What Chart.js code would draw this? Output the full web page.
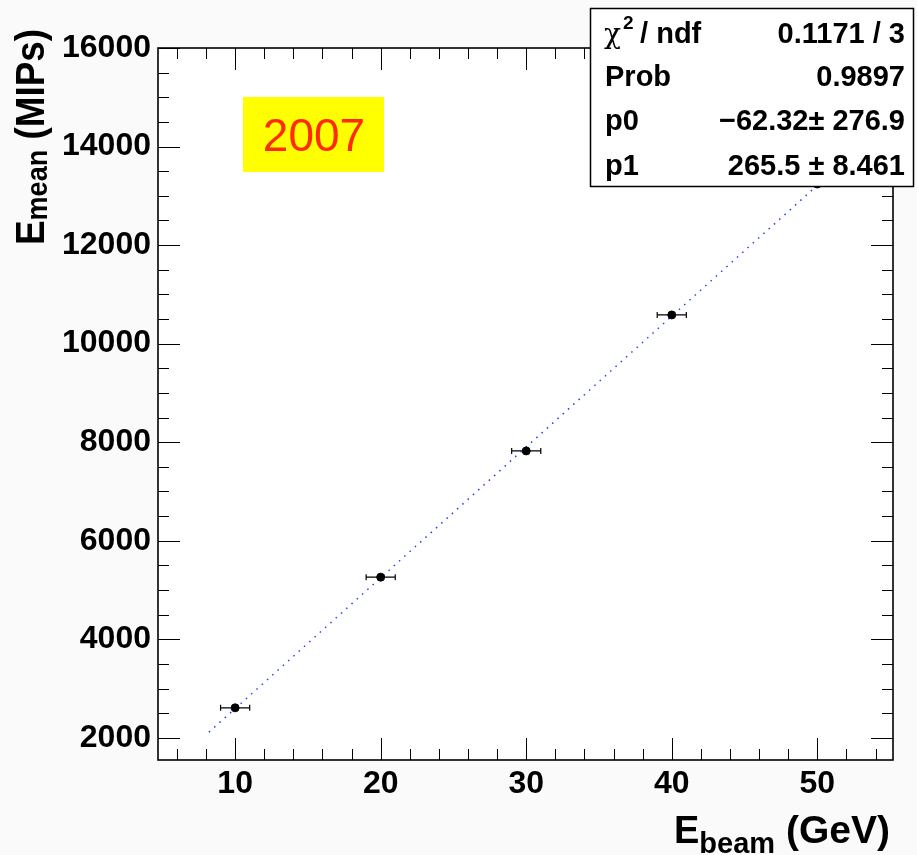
<!DOCTYPE html>
<html>
<head>
<meta charset="utf-8">
<script src="https://cdn.jsdelivr.net/npm/chart.js@4.4.1/dist/chart.umd.min.js"></script>
<style>
  body { margin: 0; background: #fafafa; }
  canvas { display: block; }
</style>
</head>
<body>
<canvas id="myChart" width="917" height="855"></canvas>
<script>
// measured points (beam energy in GeV, mean energy in MIPs)
const beamEnergy = [10, 20, 30, 40, 50];
const meanEnergy = [2609, 5261, 7823, 10583, 13240];
const beamErr = [1, 1, 1, 1, 1];

// pol1 fit drawn as a dotted line
const fitX = [8.2, 52];
const fitY = [2114.8, 13743.7];

const statNames = ["ndf", "Prob", "p0", "p1"];
const statValues = ["0.1171 / 3", "0.9897", "\u221262.32\u00b1 276.9", "265.5 \u00b1 8.461"];

const xMajor = [10, 20, 30, 40, 50];
const yMajor = [2000, 4000, 6000, 8000, 10000, 12000, 14000, 16000];

const FONT = "'Liberation Sans', Arial, sans-serif";

const rootStyle = {
    id: 'rootStyle',
    beforeDraw(chart) {
        const ctx = chart.ctx;
        const a = chart.chartArea;
        ctx.save();
        ctx.fillStyle = '#fafafa';
        ctx.fillRect(0, 0, chart.width, chart.height);
        ctx.fillStyle = '#ffffff';
        ctx.fillRect(a.left, a.top, a.right - a.left, a.bottom - a.top);
        ctx.restore();
    },
    beforeDatasetsDraw(chart) {
        // horizontal error bars
        const ctx = chart.ctx;
        const xs = chart.scales.x, ys = chart.scales.y;
        ctx.save();
        ctx.strokeStyle = '#000';
        ctx.lineWidth = 1.2;
        for (let i = 0; i < beamEnergy.length; i++) {
            let x1 = xs.getPixelForValue(beamEnergy[i] - beamErr[i]);
            let x2 = xs.getPixelForValue(beamEnergy[i] + beamErr[i]);
            let y = ys.getPixelForValue(meanEnergy[i]);
            ctx.beginPath();
            ctx.moveTo(x1, y); ctx.lineTo(x2, y);
            ctx.moveTo(x1, y - 3); ctx.lineTo(x1, y + 3);
            ctx.moveTo(x2, y - 3); ctx.lineTo(x2, y + 3);
            ctx.stroke();
        }
        ctx.restore();
    },
    afterDraw(chart) {
        const ctx = chart.ctx;
        const a = chart.chartArea;
        const xs = chart.scales.x, ys = chart.scales.y;
        ctx.save();

        // tick marks inside the frame, all four sides
        ctx.strokeStyle = '#000';
        ctx.lineWidth = 1;
        ctx.beginPath();
        for (let v = 6; v <= 54; v += 2) {
            let px = Math.round(xs.getPixelForValue(v)) + 0.5;
            let len = (v % 10 === 0) ? 22 : 11;
            ctx.moveTo(px, a.bottom); ctx.lineTo(px, a.bottom - len);
            ctx.moveTo(px, a.top); ctx.lineTo(px, a.top + len);
        }
        for (let v = 2000; v <= 16000; v += 500) {
            let py = Math.round(ys.getPixelForValue(v)) + 0.5;
            let len = (v % 2000 === 0) ? 22 : 11;
            ctx.moveTo(a.left, py); ctx.lineTo(a.left + len, py);
            ctx.moveTo(a.right, py); ctx.lineTo(a.right - len, py);
        }
        ctx.stroke();

        // frame
        ctx.lineWidth = 1.6;
        ctx.strokeRect(a.left, a.top, a.right - a.left, a.bottom - a.top);

        // year label
        ctx.fillStyle = '#ffff00';
        ctx.fillRect(243, 97, 141, 75);
        ctx.fillStyle = '#ff2a00';
        ctx.font = "46px " + FONT;
        ctx.textAlign = 'center';
        ctx.textBaseline = 'alphabetic';
        ctx.fillText("2007", 314, 151);

        // fit statistics box
        ctx.fillStyle = '#ffffff';
        ctx.fillRect(590, 8, 323, 178);
        ctx.strokeStyle = '#000';
        ctx.lineWidth = 1.5;
        ctx.strokeRect(590.5, 8.5, 323, 178);

        const rows = [43, 86, 130, 175];
        ctx.fillStyle = '#000';
        ctx.textAlign = 'left';
        ctx.font = "28px 'DejaVu Serif', serif";
        ctx.fillText("\u03c7", 604, rows[0]);
        ctx.font = "bold 19px " + FONT;
        ctx.fillText("2", 623, rows[0] - 14);
        ctx.font = "bold 29px " + FONT;
        ctx.fillText(" / " + statNames[0], 632, rows[0]);
        for (let i = 1; i < statNames.length; i++) {
            ctx.fillText(statNames[i], 605, rows[i]);
        }
        ctx.textAlign = 'right';
        for (let i = 0; i < statValues.length; i++) {
            ctx.fillText(statValues[i], 905, rows[i]);
        }

        // x axis title, with subscript
        ctx.textAlign = 'left';
        ctx.font = "bold 38px " + FONT;
        let xt = 674;
        ctx.fillText("E", xt, 843);
        xt += ctx.measureText("E").width;
        ctx.font = "bold 29px " + FONT;
        ctx.fillText("beam", xt, 853);
        xt += ctx.measureText("beam").width;
        ctx.font = "bold 39px " + FONT;
        ctx.fillText(" (GeV)", xt, 843);

        // y axis title, rotated and slightly condensed
        ctx.translate(44, 0);
        ctx.rotate(-Math.PI / 2);
        ctx.scale(0.9, 1);
        ctx.textAlign = 'left';
        let yt = -245 / 0.9;
        ctx.font = "bold 41px " + FONT;
        ctx.fillText("E", yt, 0);
        yt += ctx.measureText("E").width;
        ctx.font = "bold 30px " + FONT;
        ctx.fillText("mean", yt, 3);
        yt += ctx.measureText("mean").width;
        ctx.font = "bold 41px " + FONT;
        ctx.fillText(" (MIPs)", yt, 0);

        ctx.restore();
    }
};

const ctx = document.getElementById('myChart');

const config = {
    type: 'scatter',
    data: {
        datasets: [{
            label: 'fit',
            data: fitX.map((x, i) => ({x: x, y: fitY[i]})),
            showLine: true,
            borderColor: '#1f3dff',
            borderWidth: 1.5,
            borderDash: [1.5, 5.6],
            pointRadius: 0,
            order: 2
        }, {
            label: 'data',
            data: beamEnergy.map((x, i) => ({x: x, y: meanEnergy[i]})),
            backgroundColor: '#000',
            borderColor: '#000',
            pointRadius: 4,
            order: 1
        }]
    },
    options: {
        responsive: false,
        animation: false,
        layout: { padding: { top: 48, right: 24, left: 0, bottom: 0 } },
        plugins: {
            legend: { display: false },
            tooltip: { enabled: false }
        },
        scales: {
            x: {
                type: 'linear',
                min: 4.7,
                max: 55.2,
                grid: { display: false },
                border: { display: false },
                afterFit: s => { s.height = 95; },
                afterBuildTicks: s => { s.ticks = xMajor.map(v => ({value: v})); },
                ticks: {
                    color: '#000',
                    padding: -3,
                    callback: v => String(v),
                    font: { family: FONT, size: 32, weight: 'bold' }
                }
            },
            y: {
                type: 'linear',
                min: 1550,
                max: 16000,
                grid: { display: false },
                border: { display: false },
                afterFit: s => { s.width = 158; },
                afterBuildTicks: s => { s.ticks = yMajor.map(v => ({value: v})); },
                ticks: {
                    color: '#000',
                    padding: -1,
                    callback: v => String(v),
                    font: { family: FONT, size: 32, weight: 'bold' }
                }
            }
        }
    },
    plugins: [rootStyle]
};

let chart = new Chart(ctx, config);
</script>
</body>
</html>
